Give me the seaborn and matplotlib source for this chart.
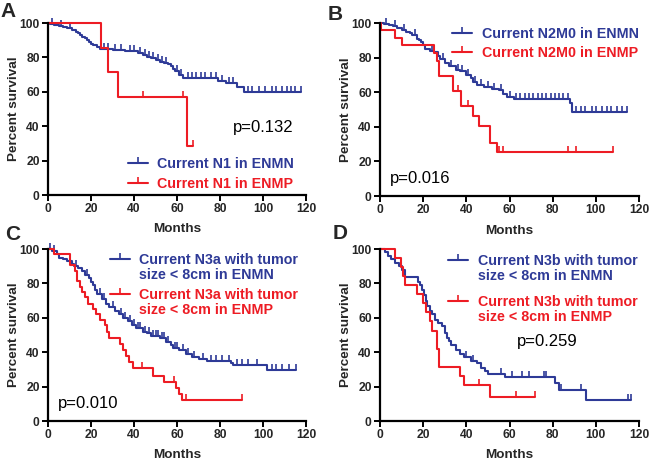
import numpy as np
import pandas as pd
import matplotlib
matplotlib.use('Agg')
import matplotlib.pyplot as plt
import seaborn as sns

BLUE = '#2e3a97'
RED = '#ed1c24'

# panel A - current N1
a_enmn_t = [0, 1, 3, 5, 7, 9, 11, 13, 14, 15, 16, 17, 18, 19, 20, 21, 22, 23, 24, 30, 36, 40, 42, 44, 46, 48,
            50, 52, 54, 56, 57, 58, 59, 61, 63, 79, 83, 88, 91]
a_enmn_s = [100, 99.5, 99, 98.5, 97.5, 97, 96, 95, 94, 93, 92, 91, 90, 89, 88, 87.5, 87, 86, 85, 84.5, 84, 83.5,
            82.5, 81.5, 80.5, 79.5, 78.5, 77.5, 77, 76, 75, 73.5, 72, 70, 68, 66.5, 65, 63, 60]
a_enmn_end = 117.5
a_enmn_cens = [2, 6, 10, 26, 28, 31, 34, 38, 40, 43, 45, 47, 49, 51, 53, 55, 60, 62, 65, 67, 69, 71, 73, 76, 78,
               81, 84, 86, 93, 95, 98, 101, 104, 106, 109, 111, 113, 115, 117.5]
a_enmp_t = [0, 24.5, 28, 32.5, 64.5]
a_enmp_s = [100, 85.7, 71.4, 57.1, 28.6]
a_enmp_end = 67.5
a_enmp_cens = [44, 63, 67.5]

# panel B - current N2M0
b_enmn_t = [0, 2, 4, 6, 8, 10, 12, 14, 15, 17, 18, 19, 20, 21, 23, 25, 27, 28, 30, 32, 35, 37, 40, 42, 43, 45,
            48, 52, 55, 57, 59, 62, 88, 89]
b_enmn_s = [100, 99.5, 99, 98, 97, 96, 95, 94, 93, 91, 90, 89, 87, 85, 84, 83, 81, 79, 77, 75, 73, 72, 70, 68,
            66, 64, 63, 62, 61, 59, 57, 56, 54, 48.5]
b_enmn_end = 114.5
b_enmn_cens = [3, 7, 11, 16, 24, 29, 33, 36, 38, 41, 44, 47, 50, 53, 56, 60, 63, 65, 67, 69, 71, 73, 75, 77, 79,
               81, 83, 85, 87, 91, 93, 95, 98, 100, 103, 105, 107, 110, 112, 114.5]
b_enmp_t = [0, 0.5, 7, 10, 25, 26.5, 27.5, 34, 37.5, 43, 46, 51, 54]
b_enmp_s = [100, 95.7, 91.3, 87.0, 82.6, 78.3, 69.6, 60.9, 52.2, 46.4, 40.6, 30.5, 25.4]
b_enmp_end = 108
b_enmp_cens = [36, 41, 55, 57, 87, 91, 108]

# panel C - current N3a, tumor size < 8cm
c_enmn_t = [0, 2, 4, 5, 7, 9, 11, 12, 14, 16, 17, 19, 20, 21, 22, 23, 25, 27, 28.5, 31, 33, 35, 37, 39, 41, 44,
            46, 48, 52, 55, 57, 58, 61, 64, 67, 70, 74, 85, 86, 102]
c_enmn_s = [100, 99, 97, 95, 94, 93, 91, 90, 89, 87, 85, 83, 81, 79, 76, 74, 71, 68, 66, 64, 62, 60, 58, 56, 54,
            52, 51, 49.5, 48, 46, 44, 42.5, 41, 39, 37.5, 36, 35, 34, 32.5, 29.5]
c_enmn_end = 115.5
c_enmn_cens = [1, 3, 13, 18, 24, 26, 30, 34, 36, 38, 40, 42, 43, 45, 47, 49, 50, 51, 53, 54, 56, 59, 60, 63, 65,
               68, 72, 76, 78, 81, 84, 88, 90, 93, 97, 104, 106, 109, 112, 115.5]
c_enmp_t = [0, 3, 10, 12.5, 13.5, 15, 16, 17, 18.5, 21, 22.5, 24, 26.5, 27.5, 28.5, 33.5, 35, 36.5, 37.5, 39.5,
            49, 54, 59.5, 61, 62.5]
c_enmp_s = [100, 96.9, 90.9, 87.5, 81.3, 78.1, 75, 71.9, 68, 65, 62, 59, 56, 52, 48, 44.8, 41.4, 37.9, 34.5, 30.6,
            26.4, 22.6, 19, 15.6, 12.4]
c_enmp_end = 90
c_enmp_cens = [43.5, 58.5, 64, 90]

# panel D - current N3b, tumor size < 8cm
d_enmn_t = [0, 2.5, 3.5, 5, 7, 9, 10, 11.5, 17.5, 18.5, 19.5, 20.5, 21.5, 22, 23, 24, 25.5, 27, 28.5, 30, 31, 32,
            33, 35, 37, 39, 42, 45, 47, 48.5, 50, 58, 81, 83, 95.5]
d_enmn_s = [100, 98, 96, 94, 92, 90, 88, 84, 81, 79, 76, 73, 70, 67, 64, 62, 59, 57, 55, 51, 48.5, 46.5, 44, 41.5,
            39, 37, 35, 33.5, 31, 29.3, 27.4, 25.6, 22, 18.1, 12]
d_enmn_end = 116.5
d_enmn_cens = [40, 43, 56, 61, 66, 69, 76, 77, 84, 93, 115, 116.5]
d_enmp_t = [0, 7, 9.5, 10.5, 11.5, 17, 20, 21.5, 23, 24, 26.2, 27.2, 37, 39, 51]
d_enmp_s = [100, 94.7, 89.5, 84.2, 78.9, 73.7, 68.4, 63.2, 57.9, 52.6, 42.1, 31.6, 26.3, 21.1, 14]
d_enmp_end = 72
d_enmp_cens = [46, 63, 72]

p_values = ['p=0.132', 'p=0.016', 'p=0.010', 'p=0.259']
legend_labels = [
    ('Current N1 in ENMN', 'Current N1 in ENMP'),
    ('Current N2M0 in ENMN', 'Current N2M0 in ENMP'),
    ('Current N3a with tumor\nsize < 8cm in ENMN', 'Current N3a with tumor\nsize < 8cm in ENMP'),
    ('Current N3b with tumor\nsize < 8cm in ENMN', 'Current N3b with tumor\nsize < 8cm in ENMP'),
]

sns.set_style('ticks')
plt.rcParams['font.family'] = ['Liberation Sans', 'DejaVu Sans']
plt.rcParams['font.weight'] = 'bold'
plt.rcParams['axes.labelweight'] = 'bold'

LW = 1.5


def draw_curve(ax, t, s, end, cens, color):
    df = pd.DataFrame({'Months': list(t) + [end], 'Survival': list(s) + [s[-1]]})
    sns.lineplot(data=df, x='Months', y='Survival', color=color, lw=LW, drawstyle='steps-post',
                 estimator=None, sort=False, ax=ax, clip_on=False)
    idx = np.searchsorted(t, cens, side='right') - 1
    ax.plot(cens, np.asarray(s)[idx], ls='none', marker=2, ms=4, mew=1.2, color=color, clip_on=False)


def add_key(ax, x, y, color, label):
    ax.plot([x, x + 0.078], [y, y], color=color, lw=LW, transform=ax.transAxes, clip_on=False)
    ax.plot([x + 0.039], [y], marker=2, ms=4, mew=1.2, color=color, transform=ax.transAxes, clip_on=False)
    ax.text(x + 0.114, y + 0.035, label, color=color, fontsize=10.3, fontweight='bold',
            transform=ax.transAxes, va='top', ha='left', linespacing=1.08)


fig = plt.figure(figsize=(6.5, 4.68), dpi=100)
W, H = 650, 468
# (left, top, right, bottom) in pixels
boxes = [(48, 23, 306, 195), (380, 23, 639, 196), (48, 249, 306, 421), (380, 249, 639, 421)]
curves = [
    (a_enmn_t, a_enmn_s, a_enmn_end, a_enmn_cens, a_enmp_t, a_enmp_s, a_enmp_end, a_enmp_cens),
    (b_enmn_t, b_enmn_s, b_enmn_end, b_enmn_cens, b_enmp_t, b_enmp_s, b_enmp_end, b_enmp_cens),
    (c_enmn_t, c_enmn_s, c_enmn_end, c_enmn_cens, c_enmp_t, c_enmp_s, c_enmp_end, c_enmp_cens),
    (d_enmn_t, d_enmn_s, d_enmn_end, d_enmn_cens, d_enmp_t, d_enmp_s, d_enmp_end, d_enmp_cens),
]
p_pos = [(86, 39.5), (4.6, 10.4), (4.7, 9.9), (63.5, 46)]
key_pos = [(0.310, 0.186, 0.070), (0.278, 0.942, 0.832), (0.240, 0.942, 0.738), (0.263, 0.936, 0.698)]
letters = [('A', 0, 17), ('B', 328, 20), ('C', 5, 240), ('D', 333, 239)]

for i, (l, t, r, b) in enumerate(boxes):
    ax = fig.add_axes([l / W, 1 - b / H, (r - l) / W, (b - t) / H])
    bt, bs, be, bc, rt, rs, re, rc = curves[i]
    draw_curve(ax, bt, bs, be, bc, BLUE)
    draw_curve(ax, rt, rs, re, rc, RED)
    ax.set_xlim(0, 120)
    ax.set_ylim(0, 100)
    ax.set_xticks(range(0, 121, 20))
    ax.set_yticks(range(0, 101, 20))
    sns.despine(ax=ax)
    for sp in ['left', 'bottom']:
        ax.spines[sp].set_linewidth(1.6)
        ax.spines[sp].set_color('black')
    ax.tick_params(width=1.4, length=4.5, pad=1.5, labelsize=8.7, color='black')
    for lab in ax.get_xticklabels() + ax.get_yticklabels():
        lab.set_fontweight('bold')
    ax.set_xlabel('Months', fontsize=9.7, fontweight='bold')
    ax.set_ylabel('Percent survival', fontsize=9.7, fontweight='bold')
    ax.xaxis.set_label_coords(0.5, -0.165)
    ax.yaxis.set_label_coords(-0.11, 0.5)
    px, py = p_pos[i]
    ax.text(px, py, p_values[i], fontsize=12, fontweight='normal', va='center', ha='left', color='black')
    kx, ky1, ky2 = key_pos[i]
    add_key(ax, kx, ky1, BLUE, legend_labels[i][0])
    add_key(ax, kx, ky2, RED, legend_labels[i][1])

for txt, x, y in letters:
    fig.text(x / W, 1 - y / H, txt, fontsize=15, fontweight='bold', va='baseline', ha='left')

fig.savefig('out.png', dpi=100)
